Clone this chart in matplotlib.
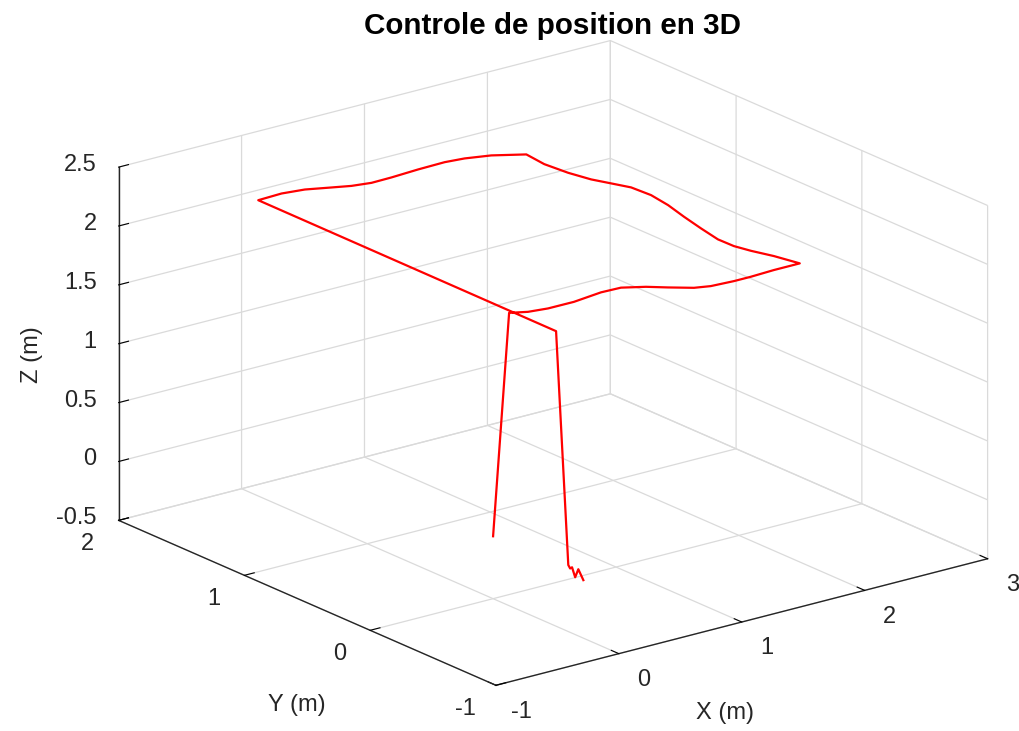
import matplotlib
matplotlib.use('Agg')
import matplotlib.pyplot as plt

plt.rcParams['font.family'] = ['Liberation Sans', 'DejaVu Sans']
plt.rcParams['axes.unicode_minus'] = False

# trajectoire du drone (m) : decollage, carre a z = 2, atterrissage
x_pos = [0.00,
         -0.018, 0.091, 0.233, 0.443, 0.693, 0.850, 0.988, 1.093, 1.222, 1.328, 1.505, 1.642, 1.839, 2.050,
         2.003, 1.947, 1.915, 1.912, 1.954, 2.003, 2.058, 2.088, 2.076, 2.021, 1.965, 1.925, 1.904, 1.926,
         1.735, 1.563, 1.417, 1.196, 0.965, 0.800, 0.662, 0.541, 0.381, 0.215, 0.017,
         0.008, 0.09,
         0.10, 0.10, 0.10, 0.10, 0.10]
y_pos = [0.00,
         -0.145, -0.189, -0.209, -0.210, -0.181, -0.186, -0.250, -0.322, -0.403, -0.433, -0.444, -0.444, -0.435, -0.435,
         -0.275, -0.147, -0.043, 0.081, 0.257, 0.439, 0.620, 0.785, 0.932, 1.036, 1.141, 1.284, 1.454, 1.618,
         1.710, 1.754, 1.770, 1.765, 1.752, 1.749, 1.773, 1.814, 1.869, 1.892, 1.884,
         -0.493, -0.51,
         -0.515, -0.53, -0.555, -0.58, -0.62]
z_pos = [0.03,
         2.00, 2.00, 2.00, 2.00, 2.00, 2.00, 2.00, 2.00, 2.00, 2.00, 2.00, 2.00, 2.00, 2.00,
         2.00, 2.00, 2.00, 2.00, 2.00, 2.00, 2.00, 2.00, 2.00, 2.00, 2.00, 2.00, 2.00, 2.00,
         2.00, 2.00, 2.00, 2.00, 2.00, 2.00, 2.00, 2.00, 2.00, 2.00, 2.00,
         2.00, 0.00,
         -0.03, -0.013, -0.086, -0.006, -0.08]

x_ticks = [-1, 0, 1, 2, 3]
x_labels = ['-1', '0', '1', '2', '3']
y_ticks = [-1, 0, 1, 2]
y_labels = ['-1', '0', '1', '2']
z_ticks = [-0.5, 0, 0.5, 1, 1.5, 2, 2.5]
z_labels = ['-0.5', '0', '0.5', '1', '1.5', '2', '2.5']

grid_col = '#dadada'
axe_col = '#262626'

fig = plt.figure(figsize=(10.2, 7.31), dpi=100)
ax = fig.add_axes([0.0326, -0.010, 1, 1], projection='3d', proj_type='ortho')
ax.plot(x_pos, y_pos, z_pos, color='red', linewidth=1.6)

ax.set_xlim(-1, 3)
ax.set_ylim(-1, 2)
ax.set_zlim(-0.5, 2.5)
ax.set_xticks(x_ticks)
ax.set_yticks(y_ticks)
ax.set_zticks(z_ticks)
ax.set_box_aspect((1, 1, 0.605), zoom=1.266)
ax.view_init(elev=19.6, azim=-127.5)

for axis in (ax.xaxis, ax.yaxis, ax.zaxis):
    axis.set_pane_color((1, 1, 1, 0))
    axis.pane.set_edgecolor(grid_col)
    axis._axinfo['grid'].update(color=grid_col, linewidth=0.9)
    axis._axinfo['tick'].update(inward_factor=0.0, outward_factor=0.25)
    axis._axinfo['tick']['color'] = axe_col
    axis.line.set_color(axe_col)
    axis.line.set_linewidth(1.0)
    axis.set_tick_params(labelbottom=False)

# libelles des graduations places a la maniere de MATLAB
for t, lab in zip(x_ticks, x_labels):
    ax.text(t, -1.2, -0.63, lab, ha='center', va='center', fontsize=17, color=axe_col)
for t, lab in zip(y_ticks, y_labels):
    ax.text(-1.25, t, -0.63, lab, ha='center', va='center', fontsize=17, color=axe_col)
for t, lab in zip(z_ticks, z_labels):
    ax.text(-1.089, 2.088, t, lab, ha='right', va='center', fontsize=17, color=axe_col)

# etiquettes des axes posees a plat, comme dans l'original
fig.text(0.7108, 0.0246, 'X (m)', ha='center', va='center', fontsize=17, color=axe_col)
fig.text(0.2912, 0.0356, 'Y (m)', ha='center', va='center', fontsize=17, color=axe_col)
fig.text(0.0314, 0.5144, 'Z (m)', ha='center', va='center', fontsize=17, color=axe_col,
         rotation=90)

fig.text(0.5417, 1 - 26 / 731, 'Controle de position en 3D', ha='center', va='center',
         fontsize=21.3, fontweight='bold')

fig.savefig('out.png', dpi=100)
